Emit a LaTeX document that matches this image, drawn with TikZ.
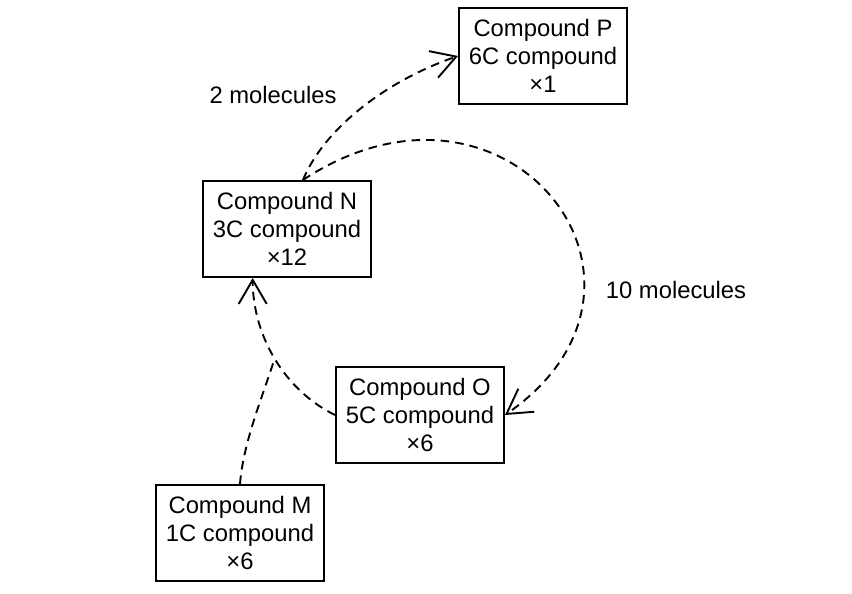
\documentclass[tikz,border=0pt]{standalone}
\usepackage{fontspec}
\setmainfont{Liberation Sans}
\usetikzlibrary{arrows.meta, positioning}

\begin{document}
\begin{tikzpicture}[
  x=0.5pt, y=-0.5pt,
  font=\fontsize{11.9}{14}\selectfont,
  box/.style={draw, line width=1pt, minimum width=84pt, minimum height=48pt, align=center, inner sep=0pt},
  lbl/.style={align=center, inner sep=0pt},
  arr/.style={line width=0.95pt, dash pattern=on 4.3pt off 3pt},
  tip/.style={-{Straight Barb[length=12pt, width=14pt]}}
]
\useasboundingbox (0,0) rectangle (852,594);

\node[box] (cP) at (543, 56) {Compound P\\6C compound\\×1};
\node[box] (cN) at (287, 229) {Compound N\\3C compound\\×12};
\node[box] (cO) at (420, 415) {Compound O\\5C compound\\×6};
\node[box] (cM) at (240, 533) {Compound M\\1C compound\\×6};

\node[lbl] (two) at (273, 95) {2 molecules};
\node[lbl] (ten) at (676, 290) {10 molecules};

\draw[arr, tip] (cN.72) .. controls +(23,-55) and +(-67,23) .. (cP.west);
\draw[arr, tip] (cN.72) .. controls +(205,-135) and +(189,-131) .. (cO.east);
\draw[arr, tip] (cO.west) .. controls +(-51,-25) and +(0,57) .. coordinate[pos=0.5] (jn) (cN.235);
\draw[arr] (cM.north) .. controls +(3,-40) and +(-13,40) .. (jn);

\end{tikzpicture}
\end{document}
